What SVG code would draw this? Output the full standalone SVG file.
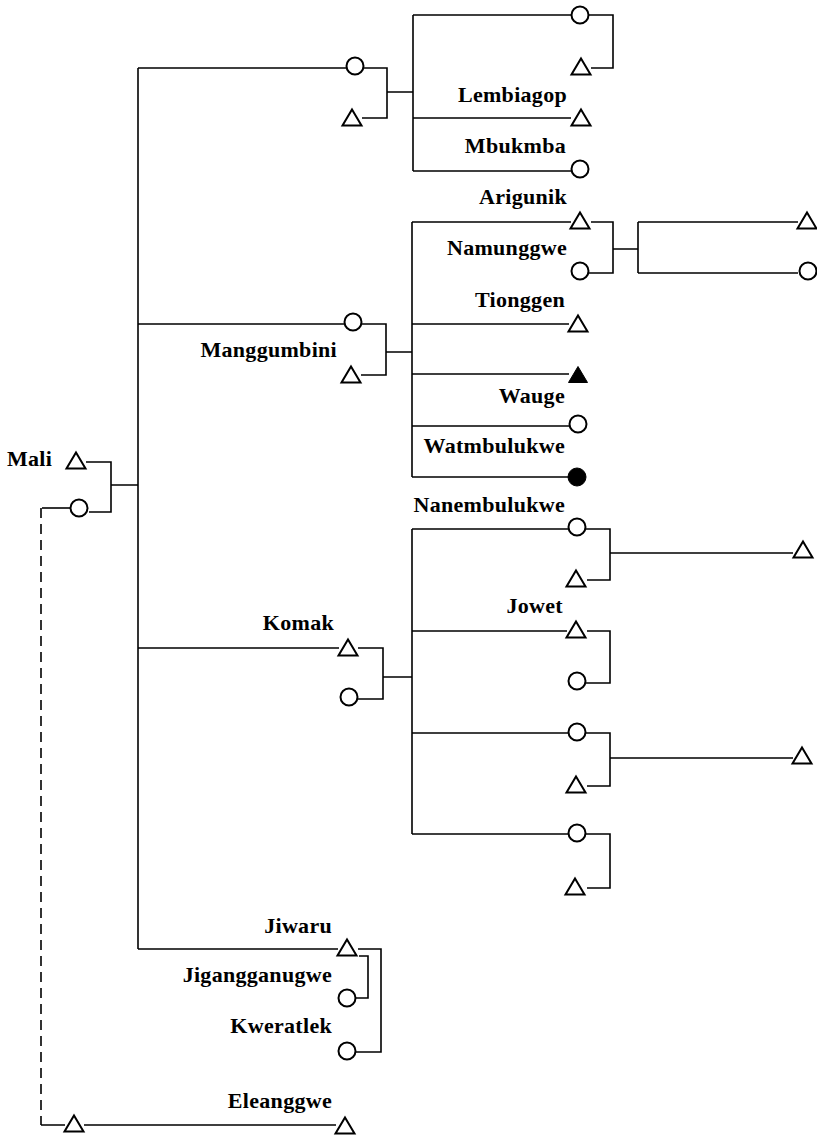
<svg xmlns="http://www.w3.org/2000/svg" width="817" height="1135" viewBox="0 0 817 1135">
<defs>
<style>
.ln{fill:none;stroke:#000;stroke-width:1.6}
.dash{fill:none;stroke:#000;stroke-width:1.6;stroke-dasharray:10 6}
.o{fill:#fff;stroke:#000;stroke-width:2}
.t{fill:#fff;stroke:#000;stroke-width:2;stroke-linejoin:miter}
.f{fill:#000;stroke:#000;stroke-width:1}
text{font-family:"Liberation Serif","Times New Roman",serif;font-weight:bold;font-size:22px;letter-spacing:0.3px;fill:#000;text-anchor:end}
</style>
<path id="tri" d="M0,-8.5 L9.5,7.5 L-9.5,7.5 Z"/>
</defs>
<rect width="817" height="1135" fill="#fff"/>
<g id="connectors">
<path class="ln" d="M138,68 V949"/>
<path class="ln" d="M86,462 H111 V512 H89 M111,485 H138"/>
<path class="ln" d="M42,508 H70"/>
<path class="dash" d="M41,508 V1125"/>
<path class="ln" d="M41,1125 H65 M84,1125 H336"/>
<path class="ln" d="M138,68 H346 M364,68 H387 V118 H362 M387,92 H413"/>
<path class="ln" d="M413,15 V171 M413,15 H571 M589,15 H613 V68 H591 M413,118 H571 M413,171 H571"/>
<path class="ln" d="M138,324 H344 M362,324 H386 V375 H361 M386,352 H412"/>
<path class="ln" d="M412,222 V477 M412,222 H571 M591,222 H613 V273 H589 M613,249 H638 M638,222 V273 M638,222 H798 M638,273 H798 M412,324 H569 M412,374 H569 M412,426 H569 M412,477 H569"/>
<path class="ln" d="M138,648 H339 M358,648 H383 V699 H358 M383,677 H412"/>
<path class="ln" d="M412,529 V834 M412,529 H568 M586,529 H610 V580 H587 M610,553 H793 M412,631 H567 M587,631 H610 V683 H586 M412,733 H568 M586,733 H610 V786 H587 M610,758 H793 M412,834 H568 M586,834 H610 V888 H587"/>
<path class="ln" d="M138,949 H338 M358,949 H381 V1052 H356 M359,956 H368 V998 H356"/>
</g>
<g id="n-mali"><text x="7" y="466" style="text-anchor:start">Mali</text><use href="#tri" class="t" x="76" y="461"/></g>
<g id="n-mali-wife"><circle class="o" cx="79" cy="508" r="8.5"/></g>
<g id="n-c1"><circle class="o" cx="355" cy="66" r="8.5"/></g>
<g id="n-c1h"><use href="#tri" class="t" x="352" y="118"/></g>
<g id="n-c1a"><circle class="o" cx="580" cy="15" r="8.5"/></g>
<g id="n-c1ah"><use href="#tri" class="t" x="581" y="67"/></g>
<g id="n-lembiagop"><text x="567" y="102">Lembiagop</text><use href="#tri" class="t" x="581" y="118"/></g>
<g id="n-mbukmba"><text x="566" y="153">Mbukmba</text><circle class="o" cx="580" cy="169" r="8.5"/></g>
<g id="n-manggumbini"><text x="337" y="357">Manggumbini</text><circle class="o" cx="353" cy="322" r="8.5"/></g>
<g id="n-manggumbini-h"><use href="#tri" class="t" x="351" y="375"/></g>
<g id="n-arigunik"><text x="567" y="204">Arigunik</text><use href="#tri" class="t" x="580" y="221"/></g>
<g id="n-namunggwe"><text x="567" y="255">Namunggwe</text><circle class="o" cx="580" cy="271" r="8.5"/></g>
<g id="n-ar-son"><use href="#tri" class="t" x="807" y="221"/></g>
<g id="n-ar-dau"><circle class="o" cx="808" cy="271" r="8.5"/></g>
<g id="n-tionggen"><text x="565" y="307">Tionggen</text><use href="#tri" class="t" x="578" y="324"/></g>
<g id="n-dead-m"><use href="#tri" class="f" x="578" y="375"/></g>
<g id="n-wauge"><text x="565" y="403">Wauge</text><circle class="o" cx="578" cy="424" r="8.5"/></g>
<g id="n-watmbulukwe"><text x="565" y="453">Watmbulukwe</text><circle class="f" cx="577" cy="477" r="9"/></g>
<g id="n-komak"><text x="334" y="630">Komak</text><use href="#tri" class="t" x="348" y="648"/></g>
<g id="n-komak-w"><circle class="o" cx="349" cy="697" r="8.5"/></g>
<g id="n-nanembulukwe"><text x="565" y="512">Nanembulukwe</text><circle class="o" cx="577" cy="527" r="8.5"/></g>
<g id="n-k1h"><use href="#tri" class="t" x="576" y="579"/></g>
<g id="n-k1s"><use href="#tri" class="t" x="803" y="550"/></g>
<g id="n-jowet"><text x="563" y="613">Jowet</text><use href="#tri" class="t" x="576" y="630"/></g>
<g id="n-jowet-w"><circle class="o" cx="577" cy="681" r="8.5"/></g>
<g id="n-k3"><circle class="o" cx="577" cy="732" r="8.5"/></g>
<g id="n-k3h"><use href="#tri" class="t" x="576" y="785"/></g>
<g id="n-k3s"><use href="#tri" class="t" x="802" y="756"/></g>
<g id="n-k4"><circle class="o" cx="577" cy="833" r="8.5"/></g>
<g id="n-k4h"><use href="#tri" class="t" x="575" y="887"/></g>
<g id="n-jiwaru"><text x="332" y="933">Jiwaru</text><use href="#tri" class="t" x="347" y="948"/></g>
<g id="n-jigangganugwe"><text x="332" y="982">Jigangganugwe</text><circle class="o" cx="347" cy="998" r="8.5"/></g>
<g id="n-kweratlek"><text x="332" y="1033">Kweratlek</text><circle class="o" cx="347" cy="1051" r="8.5"/></g>
<g id="n-mali-w-h"><use href="#tri" class="t" x="74" y="1124"/></g>
<g id="n-eleanggwe"><text x="332" y="1108">Eleanggwe</text><use href="#tri" class="t" x="345" y="1126"/></g>
</svg>
